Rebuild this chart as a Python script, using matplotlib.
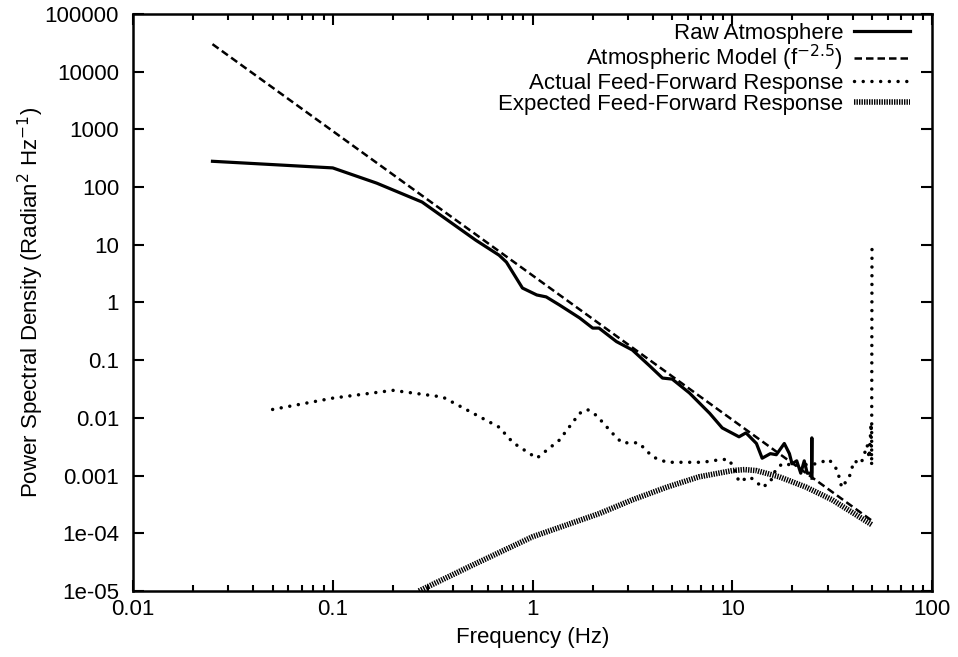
import numpy as np
import matplotlib
matplotlib.use('Agg')
import matplotlib.pyplot as plt
from matplotlib.ticker import FixedLocator, NullFormatter, NullLocator

plt.rcParams['font.family'] = ['Liberation Sans', 'DejaVu Sans']

# Raw atmosphere PSD
raw_f = [0.025, 0.1, 0.166, 0.28, 0.52, 0.68, 0.74, 0.89, 1.05, 1.17, 1.36, 1.72,
         2.0, 2.15, 2.63, 3.16, 3.85, 4.47, 5.0, 6.1, 7.7, 8.9, 10.8, 11.7, 13.2,
         14.1, 15.5, 16.6, 18.2, 19.3, 19.9, 21.0, 22.0, 22.9, 23.7, 24.9, 25.0, 25.05]
raw_p = [280, 215, 117, 55, 12, 6.6, 5.0, 1.78, 1.35, 1.25, 0.91, 0.54,
         0.36, 0.36, 0.21, 0.15, 0.08, 0.049, 0.047, 0.027, 0.012, 0.0067, 0.0047, 0.0055, 0.0036,
         0.002, 0.0024, 0.0023, 0.0036, 0.0024, 0.0016, 0.0018, 0.0011, 0.0018, 0.0011, 0.0011, 0.0045, 0.0009]

# Atmospheric model f^-2.5 (straight line in log-log)
model_f = [0.025, 50]
model_p = [30000, 1.65e-4]

# Actual feed-forward response
act_f = [0.05, 0.1, 0.2, 0.355, 0.47, 0.68, 0.8, 1.05, 1.36, 1.72, 1.88, 2.09, 2.5, 2.8,
         3.4, 4.0, 4.7, 5.6, 7.1, 8.8, 9.6, 10.2, 10.8, 12.2, 13.2, 14.1, 15.5, 16.3,
         17.7, 21.0, 26.3, 30.5, 33.5, 35.3, 38.5, 40.7, 44.0, 45.7, 47.3, 48.4, 49.5,
         49.8, 50.0]
act_p = [0.014, 0.022, 0.030, 0.023, 0.0137, 0.0069, 0.0037, 0.002, 0.0041, 0.012, 0.014, 0.011,
         0.0055, 0.0037, 0.0037, 0.0021, 0.0017, 0.0017, 0.0017, 0.0019, 0.0019, 0.00135, 0.00078,
         0.00095, 0.00078, 0.00062, 0.00078, 0.00116, 0.0016, 0.0015, 0.0016, 0.0019, 0.00125,
         0.00062, 0.00095, 0.0018, 0.0016, 0.0023, 0.0034, 0.002, 0.008, 0.0015, 8.5]

# Expected feed-forward response
exp_f = [0.27, 0.5, 1.0, 2.16, 3.16, 4.7, 6.8, 10.0, 11.5, 13.2, 17.2, 23.4, 31.6, 50.0]
exp_p = [1e-5, 2.8e-5, 8.7e-5, 2.2e-4, 3.8e-4, 6.3e-4, 9.5e-4, 1.22e-3, 1.27e-3, 1.22e-3,
         9.5e-4, 6.3e-4, 3.8e-4, 1.4e-4]

ytick_vals = [1e5, 1e4, 1e3, 1e2, 1e1, 1, 0.1, 0.01, 0.001, 1e-4, 1e-5]
ytick_labels = ['100000', '10000', '1000', '100', '10', '1', '0.1', '0.01', '0.001', '1e-04', '1e-05']
xtick_vals = [0.01, 0.1, 1, 10, 100]
xtick_labels = ['0.01', '0.1', '1', '10', '100']

fs = 16

fig = plt.figure(figsize=(9.58, 6.57), dpi=100)
ax = fig.add_axes([0.1388, 0.1005, 0.8342, 0.8782])

ax.plot(raw_f, raw_p, color='black', lw=2.3, label='Raw Atmosphere')
ax.plot(model_f, model_p, color='black', lw=1.8, linestyle=(0, (3, 1.6)),
        label='Atmospheric Model (f$^{-2.5}$)')
ax.plot(act_f, act_p, color='black', lw=2.5, linestyle=(0, (0.01, 2.5)),
        dash_capstyle='round', label='Actual Feed-Forward Response')
ax.plot(exp_f, exp_p, color='black', lw=4.0, linestyle=(0, (0.25, 0.2)),
        dash_capstyle='butt', label='Expected Feed-Forward Response')

ax.set_xscale('log')
ax.set_yscale('log')
ax.set_xlim(0.01, 100)
ax.set_ylim(1e-5, 1e5)

ax.set_xticks(xtick_vals)
ax.set_xticklabels(xtick_labels)
ax.set_yticks(ytick_vals)
ax.set_yticklabels(ytick_labels)
minor_x = [m * 10.0 ** e for e in range(-2, 2) for m in range(2, 10)]
ax.xaxis.set_minor_locator(FixedLocator(minor_x))
ax.xaxis.set_minor_formatter(NullFormatter())
ax.yaxis.set_minor_locator(NullLocator())

ax.tick_params(which='both', direction='in', top=True, right=True, width=1.5, labelsize=fs)
ax.tick_params(which='major', length=8)
ax.tick_params(axis='y', which='major', pad=10)
ax.tick_params(axis='x', which='major', pad=6)
ax.tick_params(which='minor', length=4)
for s in ax.spines.values():
    s.set_linewidth(1.8)

ax.set_xlabel('Frequency (Hz)', fontsize=fs, labelpad=5)
ax.set_ylabel('Power Spectral Density (Radian$^2$ Hz$^{-1}$)', fontsize=fs, labelpad=-1)

ax.legend(loc='upper right', bbox_to_anchor=(0.972, 0.985), frameon=False,
          markerfirst=False, fontsize=fs, handlelength=2.5, handletextpad=0.5,
          labelspacing=-0.02, borderaxespad=0.0, borderpad=0.0)

plt.savefig('out.png', dpi=100)
